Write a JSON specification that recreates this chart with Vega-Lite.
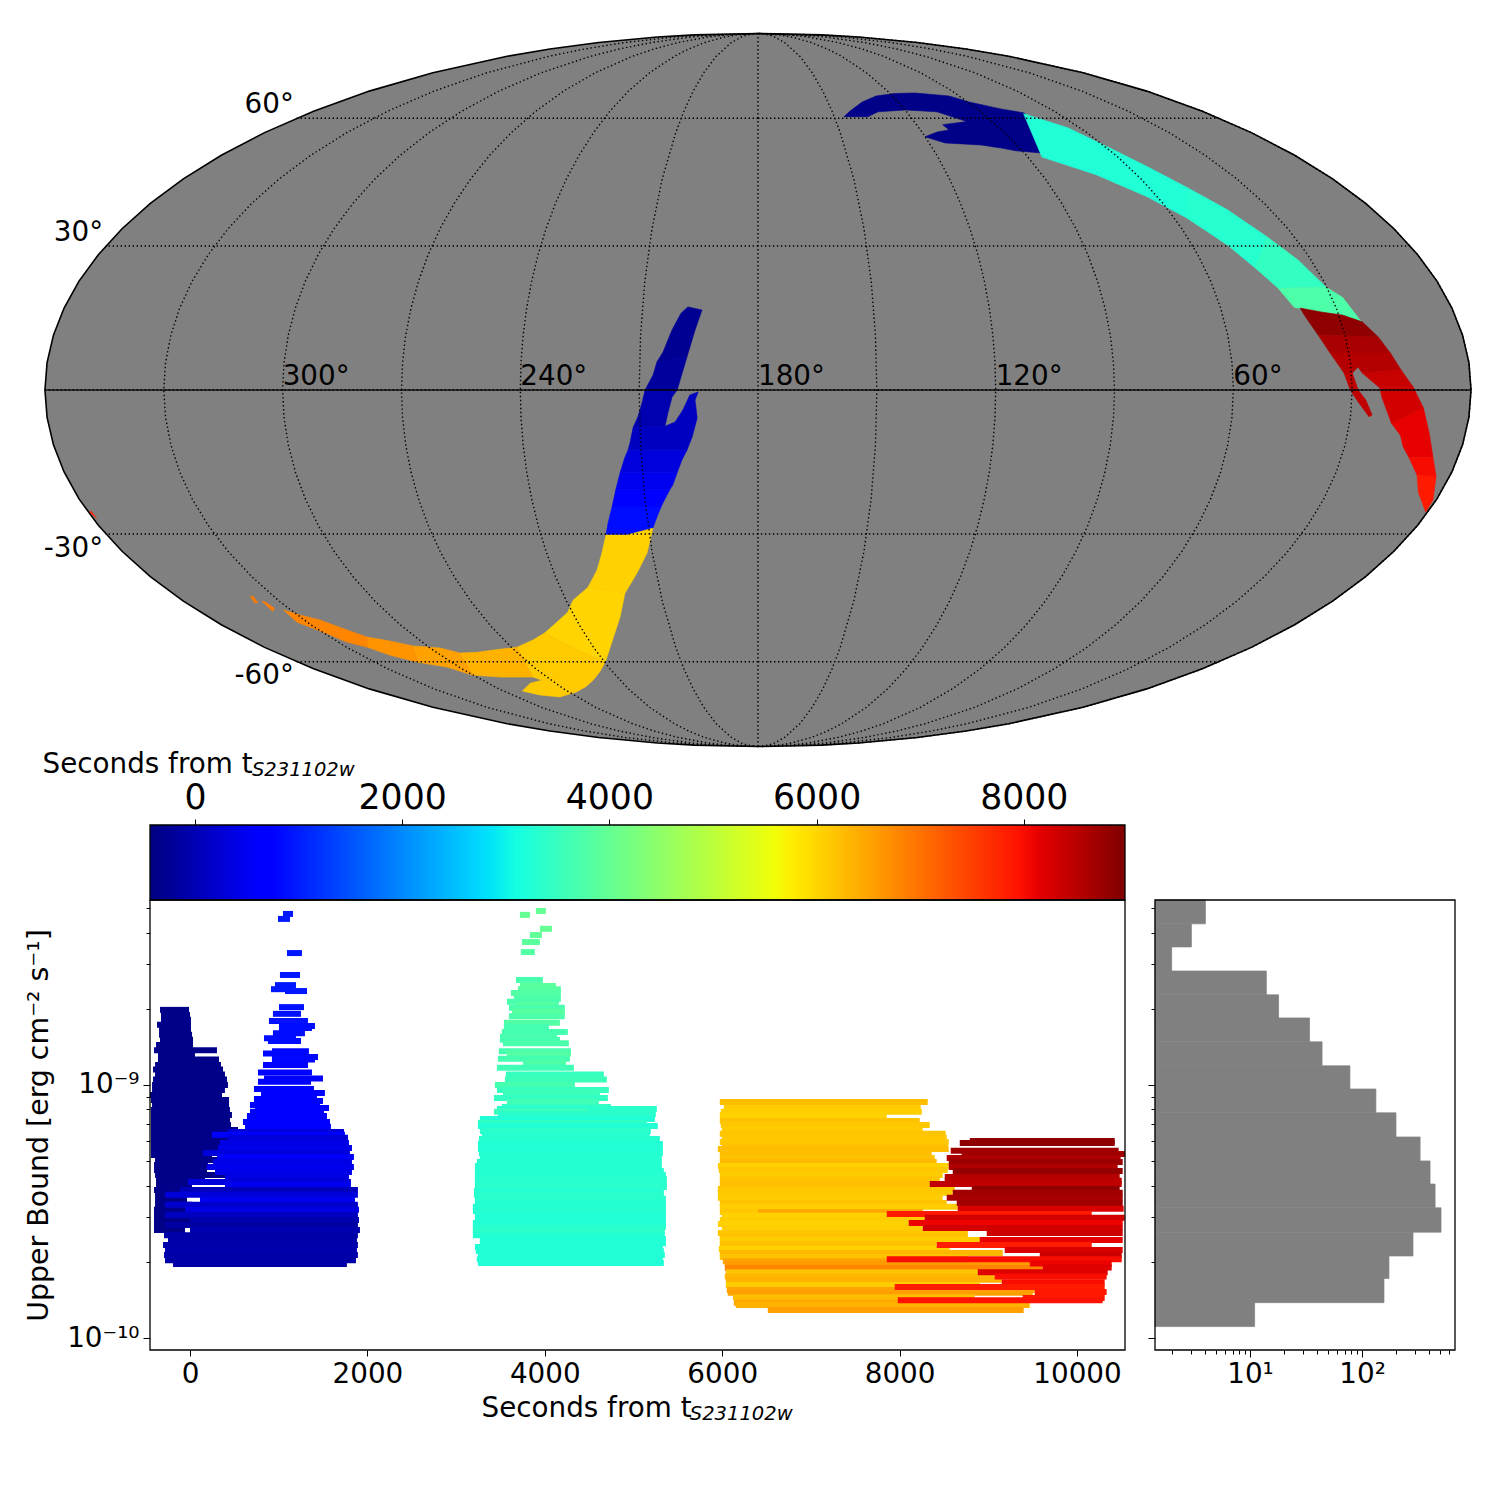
{
"$schema":"https://vega.github.io/schema/vega-lite/v6.json",
"width":1500,"height":1500,"padding":0,"autosize":{"type":"none"},"background":"white",
"config":{"font":"DejaVu Sans","view":{"stroke":null},"axis":{"grid":false,"domain":false,"tickColor":"black","labelColor":"black","titleColor":"black","titleFontWeight":"normal"}},
"resolve":{"scale":{"x":"independent","y":"independent"},"axis":{"x":"independent","y":"independent"}},
"layer":[
{"data":{"sphere":true},"mark":{"type":"geoshape","fill":"#808080","stroke":"black","strokeWidth":1.6},
 "projection":{"type":"mollweide","scale":252.1,"translate":[758,390],"rotate":[-180,0],"reflectX":true}},
{"data":{"values":[
{"type":"Feature","properties":{"t":-350},"geometry":{"type":"Polygon","coordinates":[[[136.8,60.4],[131.6,61.7],[107.8,61.7],[99.9,59.1],[110.2,58.3],[109.5,56.95],[114.5,56.4],[120.1,55.2],[114.5,53.65],[102.5,53.15],[96.4,52.4],[92.2,51.7],[84.4,51.2],[80.3,55.2],[75.5,58.8],[73.2,61.4],[80.4,62.5],[89.6,64.4],[94.7,66.1],[108.3,66.96],[127.3,66.1],[135.4,64.4],[142.7,61.9],[146.2,60.4],[136.8,60.4]]]}},
{"type":"Feature","properties":{"t":3230},"geometry":{"type":"Polygon","coordinates":[[[85.3,50.2],[72.9,46.0],[63.1,40.9],[56.4,36.15],[48.4,43.0],[53.9,47.85],[59.3,52.65],[64.6,57.5],[73.9,61.2],[85.3,50.2]]]}},
{"type":"Feature","properties":{"t":3300},"geometry":{"type":"Polygon","coordinates":[[[56.4,36.15],[50.3,30.2],[46.4,25.3],[37.7,32.0],[42.7,38.0],[48.4,43.0],[56.4,36.15]]]}},
{"type":"Feature","properties":{"t":3450},"geometry":{"type":"Polygon","coordinates":[[[46.4,25.3],[43,21.0],[30.2,21.2],[33.6,27.0],[37.7,32.0],[46.4,25.3]]]}},
{"type":"Feature","properties":{"t":3750},"geometry":{"type":"Polygon","coordinates":[[[43,21.0],[40.8,17.0],[34,16.0],[29.1,15.4],[24.7,13.8],[27.2,19.1],[30.2,21.2],[43,21.0]]]}},
{"type":"Feature","properties":{"t":8850},"geometry":{"type":"Polygon","coordinates":[[[39.4,16.86],[38.7,14.8],[36.9,11.3],[21.7,10.9],[24.6,14.0],[29.1,15.4],[34,16.0],[39.4,16.86]]]}},
{"type":"Feature","properties":{"t":8650},"geometry":{"type":"Polygon","coordinates":[[[36.9,11.3],[34.8,7.6],[19.5,7.6],[21.7,10.9],[36.9,11.3]]]}},
{"type":"Feature","properties":{"t":8550},"geometry":{"type":"Polygon","coordinates":[[[34.8,7.6],[31.9,3.5],[29.8,3.5],[28.2,4.7],[27.3,3.5],[17.4,4.1],[19.5,7.6],[34.8,7.6]]]}},
{"type":"Feature","properties":{"t":8450},"geometry":{"type":"Polygon","coordinates":[[[31.9,3.5],[30.5,0],[28.4,-2.45],[25.3,-5.5],[24.6,-5.1],[26.5,-2.05],[28.5,0],[29.8,3.5],[31.9,3.5]]]}},
{"type":"Feature","properties":{"t":8400},"geometry":{"type":"Polygon","coordinates":[[[27.3,3.5],[23,0.4],[14.6,0.6],[17.4,4.1],[27.3,3.5]]]}},
{"type":"Feature","properties":{"t":8300},"geometry":{"type":"Polygon","coordinates":[[[23,0.4],[22.5,-1.45],[19.4,-6.8],[11.8,-3.7],[14.6,0.6],[23,0.4]]]}},
{"type":"Feature","properties":{"t":8150},"geometry":{"type":"Polygon","coordinates":[[[19.4,-6.8],[16.5,-9.3],[15,-11.7],[12.7,-13.8],[6.5,-13.8],[9.3,-8.85],[11.8,-3.7],[19.4,-6.8]]]}},
{"type":"Feature","properties":{"t":8020},"geometry":{"type":"Polygon","coordinates":[[[12.7,-13.8],[8.7,-17.5],[3.5,-17.9],[6.5,-13.8],[12.7,-13.8]]]}},
{"type":"Feature","properties":{"t":7870},"geometry":{"type":"Polygon","coordinates":[[[8.7,-17.5],[5.9,-21.2],[0.6,-25.3],[0.9,-22.7],[3.5,-17.9],[8.7,-17.5]]]}},
{"type":"Feature","properties":{"t":7750},"geometry":{"type":"Polygon","coordinates":[[[359.6,-25.3],[358.9,-26.6],[359.0,-25.1],[359.6,-25.3]]]}},
{"type":"Feature","properties":{"t":-280},"geometry":{"type":"Polygon","coordinates":[[[194.5,16.45],[198.2,17.1],[199.9,15.8],[202,12.35],[204.1,7.8],[205.6,5.75],[198,6.8],[196.1,12.35],[194.5,16.45]]]}},
{"type":"Feature","properties":{"t":-180},"geometry":{"type":"Polygon","coordinates":[[[205.6,5.75],[206.5,3.1],[208.5,0],[200.4,0],[198,6.8],[205.6,5.75]]]}},
{"type":"Feature","properties":{"t":-40},"geometry":{"type":"Polygon","coordinates":[[[208.5,0],[209.3,-2.65],[210.4,-5.5],[211.7,-7.7],[203.6,-7.4],[202.8,-4.7],[201.7,-1.45],[200.4,0],[208.5,0]]]}},
{"type":"Feature","properties":{"t":100},"geometry":{"type":"Polygon","coordinates":[[[211.7,-7.7],[212.7,-10.9],[213.3,-12.35],[198.2,-12.35],[196.8,-9.7],[195.4,-5.75],[195.9,-2.05],[195.1,-0.4],[197.2,-1],[199,-4.1],[201,-6.55],[203.6,-7.4],[211.7,-7.7]]]}},
{"type":"Feature","properties":{"t":330},"geometry":{"type":"Polygon","coordinates":[[[213.3,-12.35],[214.2,-13.8],[215.8,-17.05],[201,-17.05],[199.6,-14.4],[198.2,-12.35],[213.3,-12.35]]]}},
{"type":"Feature","properties":{"t":480},"geometry":{"type":"Polygon","coordinates":[[[215.8,-17.05],[217.4,-20.6],[203.2,-20.6],[202.3,-19.55],[201,-17.05],[215.8,-17.05]]]}},
{"type":"Feature","properties":{"t":650},"geometry":{"type":"Polygon","coordinates":[[[217.4,-20.6],[219,-24.2],[205.9,-24.2],[205.3,-23.35],[203.2,-20.6],[217.4,-20.6]]]}},
{"type":"Feature","properties":{"t":850},"geometry":{"type":"Polygon","coordinates":[[[219,-24.2],[220.8,-27.65],[222,-30.2],[216.2,-30.2],[208.8,-28.75],[207.3,-26.35],[205.9,-24.2],[219,-24.2]]]}},
{"type":"Feature","properties":{"t":6050},"geometry":{"type":"Polygon","coordinates":[[[222,-30.2],[224.3,-34.15],[227.1,-37.95],[231.5,-41.8],[220.9,-43.2],[215.6,-38.6],[211.5,-34.15],[208.8,-28.75],[216.2,-30.2],[222,-30.2]]]}},
{"type":"Feature","properties":{"t":6020},"geometry":{"type":"Polygon","coordinates":[[[231.5,-41.8],[237.8,-44.8],[241.4,-47.6],[246.9,-50],[253.6,-52.65],[239.7,-60.1],[230.9,-53.9],[225.2,-48.8],[220.9,-43.2],[231.5,-41.8]]]}},
{"type":"Feature","properties":{"t":6120},"geometry":{"type":"Polygon","coordinates":[[[253.6,-52.65],[259.7,-54.4],[267.8,-56.2],[275.8,-64.15],[273.8,-65],[281,-65.85],[290.9,-68.1],[286.4,-69.3],[278.3,-69.9],[266.2,-68.4],[251.6,-65],[239.7,-60.1],[253.6,-52.65]]]}},
{"type":"Feature","properties":{"t":6350},"geometry":{"type":"Polygon","coordinates":[[[267.8,-56.2],[277.8,-56.95],[291.5,-57.7],[299.9,-63.6],[289.8,-64.15],[275.8,-64.15],[267.8,-56.2]]]}},
{"type":"Feature","properties":{"t":6520},"geometry":{"type":"Polygon","coordinates":[[[291.5,-57.7],[296.3,-56.4],[305.1,-55.9],[313,-60.1],[304.8,-61.4],[299.9,-63.6],[291.5,-57.7]]]}},
{"type":"Feature","properties":{"t":6650},"geometry":{"type":"Polygon","coordinates":[[[305.1,-55.9],[310.8,-54.65],[316.9,-53.65],[322.4,-56.2],[318.9,-58.3],[313,-60.1],[305.1,-55.9]]]}},
{"type":"Feature","properties":{"t":6800},"geometry":{"type":"Polygon","coordinates":[[[316.9,-53.65],[320.3,-51.9],[324.7,-49.5],[329,-48.3],[332.2,-47.1],[333.3,-50],[328.7,-53.1],[326.8,-54.9],[322.4,-56.2],[316.9,-53.65]]]}},
{"type":"Feature","properties":{"t":6900},"geometry":{"type":"Polygon","coordinates":[[[337.2,-43.9],[338.4,-45.5],[337.2,-45.3],[336.3,-43.9],[337.2,-43.9]]]}},
{"type":"Feature","properties":{"t":6900},"geometry":{"type":"Polygon","coordinates":[[[335.4,-45],[336.3,-47.4],[334.4,-46.7],[334.7,-45.3],[335.4,-45]]]}}
]},
"mark":{"type":"geoshape","strokeWidth":0.6},
"projection":{"type":"mollweide","scale":252.1,"translate":[758,390],"rotate":[-180,0],"reflectX":true},
"encoding":{
 "color":{"field":"properties.t","type":"quantitative","legend":null,"scale":{"domain":[-434,601,742,2766,2860,3095,4272,5589,5777,7942,8130,8977],"range":["#00007f","#0000ff","#0000ff","#00dbff","#00e5f7","#14ffe2","#7bff7b","#f0ff08","#ffec00","#ff1300","#e80000","#7f0000"],"interpolate":"rgb","clamp":true}},
 "stroke":{"field":"properties.t","type":"quantitative","legend":null,"scale":{"domain":[-434,601,742,2766,2860,3095,4272,5589,5777,7942,8130,8977],"range":["#00007f","#0000ff","#0000ff","#00dbff","#00e5f7","#14ffe2","#7bff7b","#f0ff08","#ffec00","#ff1300","#e80000","#7f0000"],"interpolate":"rgb","clamp":true}}
}},
{"data":{"graticule":{"stepMajor":[30,30],"stepMinor":[30,30]}},"mark":{"type":"geoshape","filled":false,"stroke":"black","strokeWidth":1.4,"strokeDash":[1.4,2.6]},
 "projection":{"type":"mollweide","scale":252.1,"translate":[758,390],"rotate":[-180,0],"reflectX":true}},
{"data":{"values":[{"type":"Feature","properties":{},"geometry":{"type":"LineString","coordinates":[[0.01,0],[90,0],[180,0],[270,0],[359.99,0]]}}]},
 "mark":{"type":"geoshape","filled":false,"stroke":"black","strokeWidth":1.6,"opacity":0.85},
 "projection":{"type":"mollweide","scale":252.1,"translate":[758,390],"rotate":[-180,0],"reflectX":true}},
{"data":{"values":[{"lon":300,"lat":0,"label":"300°"},{"lon":240,"lat":0,"label":"240°"},{"lon":180,"lat":0,"label":"180°"},{"lon":120,"lat":0,"label":"120°"},{"lon":60,"lat":0,"label":"60°"}]},
 "mark":{"type":"text","align":"left","baseline":"alphabetic","fontSize":27.8,"dy":-5,"color":"black"},
 "projection":{"type":"mollweide","scale":252.1,"translate":[758,390],"rotate":[-180,0],"reflectX":true},
 "encoding":{"longitude":{"field":"lon","type":"quantitative"},"latitude":{"field":"lat","type":"quantitative"},"text":{"field":"label"}}},
{"data":{"values":[{"lon":359.9,"lat":60,"label":"60°"},{"lon":359.9,"lat":30,"label":"30°"}]},
 "mark":{"type":"text","align":"right","baseline":"alphabetic","fontSize":27.8,"dx":-3,"dy":-5,"color":"black"},
 "projection":{"type":"mollweide","scale":252.1,"translate":[758,390],"rotate":[-180,0],"reflectX":true},
 "encoding":{"longitude":{"field":"lon","type":"quantitative"},"latitude":{"field":"lat","type":"quantitative"},"text":{"field":"label"}}},
{"data":{"values":[{"lon":359.9,"lat":-60,"label":"-60°"},{"lon":359.9,"lat":-30,"label":"-30°"}]},
 "mark":{"type":"text","align":"right","baseline":"alphabetic","fontSize":27.8,"dx":-3,"dy":22.5,"color":"black"},
 "projection":{"type":"mollweide","scale":252.1,"translate":[758,390],"rotate":[-180,0],"reflectX":true},
 "encoding":{"longitude":{"field":"lon","type":"quantitative"},"latitude":{"field":"lat","type":"quantitative"},"text":{"field":"label"}}},

{"data":{"values":[{"t0":-434,"t1":8977,"a":0,"b":1}]},
 "mark":{"type":"rect","stroke":"black","strokeWidth":1.3,"fill":{"gradient":"linear","x1":0,"y1":0,"x2":1,"y2":0,"stops":[{"offset":0,"color":"#00007f"},{"offset":0.11,"color":"#0000ff"},{"offset":0.125,"color":"#0000ff"},{"offset":0.34,"color":"#00dbff"},{"offset":0.35,"color":"#00e5f7"},{"offset":0.375,"color":"#14ffe2"},{"offset":0.5,"color":"#7bff7b"},{"offset":0.64,"color":"#f0ff08"},{"offset":0.66,"color":"#ffec00"},{"offset":0.89,"color":"#ff1300"},{"offset":0.91,"color":"#e80000"},{"offset":1,"color":"#7f0000"}]}},
 "encoding":{
  "x":{"field":"t0","type":"quantitative","scale":{"domain":[-434,8977],"range":[150,1125],"nice":false,"zero":false},
   "axis":{"orient":"top","offset":-825,"values":[0,2000,4000,6000,8000],"format":"d","tickSize":6,"tickWidth":1,"labelFontSize":34.7,"labelPadding":4,"title":"Seconds from t","titleFontSize":27.8,"titleX":42,"titleY":-53,"titleAlign":"left","titleBaseline":"alphabetic"}},
  "x2":{"field":"t1"},
  "y":{"field":"a","type":"quantitative","scale":{"domain":[0,1],"range":[900,825],"nice":false,"zero":false},"axis":null},
  "y2":{"field":"b"}}},
{"data":{"values":[{}]},"mark":{"type":"text","align":"left","baseline":"alphabetic","fontSize":19.5,"fontStyle":"italic","color":"black"},
 "encoding":{"x":{"datum":550,"type":"quantitative","scale":{"domain":[-434,8977],"range":[150,1125],"nice":false,"zero":false},"axis":null},
  "y":{"datum":1.65,"type":"quantitative","scale":{"domain":[0,1],"range":[900,825],"nice":false,"zero":false},"axis":null},
  "text":{"value":"S231102w"}}},

{"data":{"values":[
{"s":-338,"e":-11,"ub":1.98e-9,"t":-350},{"s":-327,"e":0,"ub":1.89e-9,"t":-350},{"s":-327,"e":11,"ub":1.81e-9,"t":-350},{"s":-372,"e":11,"ub":1.73e-9,"t":-350},{"s":-349,"e":11,"ub":1.65e-9,"t":-350},{"s":-349,"e":23,"ub":1.58e-9,"t":-350},{"s":-338,"e":34,"ub":1.51e-9,"t":-350},{"s":-383,"e":34,"ub":1.44e-9,"t":-350},{"s":-406,"e":304,"ub":1.37e-9,"t":-350},{"s":-361,"e":56,"ub":1.31e-9,"t":-350},{"s":-361,"e":327,"ub":1.26e-9,"t":-350},{"s":-394,"e":349,"ub":1.20e-9,"t":-350},{"s":-417,"e":372,"ub":1.15e-9,"t":-350},{"s":-394,"e":394,"ub":1.10e-9,"t":-350},{"s":-417,"e":417,"ub":1.05e-9,"t":-350},{"s":-428,"e":428,"ub":1.00e-9,"t":-350},{"s":-428,"e":394,"ub":9.55e-10,"t":-350},{"s":-451,"e":361,"ub":9.12e-10,"t":-350},{"s":-440,"e":440,"ub":8.72e-10,"t":-350},{"s":-428,"e":440,"ub":8.34e-10,"t":-350},{"s":-440,"e":451,"ub":7.97e-10,"t":-350},{"s":-440,"e":473,"ub":7.61e-10,"t":-350},{"s":-440,"e":451,"ub":7.27e-10,"t":-350},{"s":-440,"e":462,"ub":6.95e-10,"t":-350},{"s":-440,"e":541,"ub":6.64e-10,"t":-350},{"s":-440,"e":451,"ub":6.35e-10,"t":-350},{"s":-440,"e":428,"ub":6.06e-10,"t":-350},{"s":-440,"e":428,"ub":5.79e-10,"t":-350},{"s":-440,"e":485,"ub":5.54e-10,"t":-350},{"s":-440,"e":248,"ub":5.29e-10,"t":-350},{"s":-394,"e":316,"ub":5.05e-10,"t":-350},{"s":-406,"e":203,"ub":4.83e-10,"t":-350},{"s":-406,"e":192,"ub":4.61e-10,"t":-350},{"s":-394,"e":620,"ub":4.41e-10,"t":-350},{"s":-383,"e":169,"ub":4.21e-10,"t":-350},{"s":-383,"e":23,"ub":4.03e-10,"t":-350},{"s":-406,"e":79,"ub":3.85e-10,"t":-350},{"s":-394,"e":-90,"ub":3.68e-10,"t":-350},{"s":-394,"e":-34,"ub":3.51e-10,"t":-350},{"s":-394,"e":23,"ub":3.36e-10,"t":-350},{"s":-406,"e":23,"ub":3.21e-10,"t":-350},{"s":-406,"e":733,"ub":3.06e-10,"t":-350},{"s":-406,"e":56,"ub":2.93e-10,"t":-350},{"s":-406,"e":811,"ub":2.80e-10,"t":-350},{"s":-406,"e":-56,"ub":2.67e-10,"t":-350},

{"s":1048,"e":1161,"ub":4.74e-9,"t":950},{"s":992,"e":1127,"ub":4.53e-9,"t":950},{"s":1093,"e":1262,"ub":3.32e-9,"t":950},{"s":1014,"e":1240,"ub":2.72e-9,"t":950},{"s":958,"e":1195,"ub":2.48e-9,"t":950},{"s":913,"e":1138,"ub":2.39e-9,"t":950},{"s":1071,"e":1319,"ub":2.35e-9,"t":950},{"s":1003,"e":1285,"ub":2.03e-9,"t":900},{"s":935,"e":1251,"ub":1.91e-9,"t":900},{"s":890,"e":1330,"ub":1.79e-9,"t":900},{"s":1003,"e":1409,"ub":1.71e-9,"t":850},{"s":1003,"e":1375,"ub":1.68e-9,"t":850},{"s":935,"e":1296,"ub":1.60e-9,"t":850},{"s":834,"e":1195,"ub":1.53e-9,"t":850},{"s":879,"e":1251,"ub":1.49e-9,"t":850},{"s":924,"e":1341,"ub":1.36e-9,"t":800},{"s":823,"e":1296,"ub":1.33e-9,"t":800},{"s":924,"e":1443,"ub":1.29e-9,"t":800},{"s":924,"e":1409,"ub":1.26e-9,"t":800},{"s":823,"e":1330,"ub":1.20e-9,"t":780},{"s":766,"e":1375,"ub":1.12e-9,"t":780},{"s":834,"e":1499,"ub":1.06e-9,"t":750},{"s":766,"e":1364,"ub":1.03e-9,"t":750},{"s":721,"e":1397,"ub":9.64e-10,"t":730},{"s":800,"e":1521,"ub":9.29e-10,"t":730},{"s":721,"e":1431,"ub":8.80e-10,"t":720},{"s":755,"e":1499,"ub":8.64e-10,"t":720},{"s":676,"e":1465,"ub":8.34e-10,"t":700},{"s":733,"e":1567,"ub":8.11e-10,"t":700},{"s":676,"e":1510,"ub":7.83e-10,"t":680},{"s":642,"e":1544,"ub":7.54e-10,"t":680},{"s":597,"e":1578,"ub":7.14e-10,"t":650},{"s":620,"e":1589,"ub":6.83e-10,"t":650},
{"s":428,"e":1736,"ub":6.52e-10,"t":300},{"s":248,"e":1747,"ub":6.35e-10,"t":650},{"s":428,"e":1781,"ub":6.18e-10,"t":300},{"s":338,"e":1792,"ub":5.90e-10,"t":380},{"s":316,"e":1826,"ub":5.64e-10,"t":420},{"s":147,"e":1803,"ub":5.39e-10,"t":300},{"s":304,"e":1848,"ub":5.19e-10,"t":560},{"s":259,"e":1826,"ub":4.96e-10,"t":400},{"s":192,"e":1848,"ub":4.74e-10,"t":450},{"s":282,"e":1826,"ub":4.53e-10,"t":420},{"s":394,"e":1792,"ub":4.33e-10,"t":350},{"s":-23,"e":1814,"ub":4.14e-10,"t":300},{"s":394,"e":1814,"ub":4.03e-10,"t":480},
{"s":-113,"e":1893,"ub":3.85e-10,"t":50},{"s":-282,"e":1893,"ub":3.68e-10,"t":300},{"s":113,"e":1860,"ub":3.51e-10,"t":500},{"s":-282,"e":1893,"ub":3.36e-10,"t":200},{"s":-56,"e":1905,"ub":3.21e-10,"t":350},{"s":-282,"e":1893,"ub":3.06e-10,"t":100},{"s":0,"e":1905,"ub":2.93e-10,"t":-50},{"s":-282,"e":1893,"ub":2.80e-10,"t":-150},{"s":0,"e":1916,"ub":2.67e-10,"t":-50},{"s":-293,"e":1893,"ub":2.55e-10,"t":-100},{"s":-248,"e":1882,"ub":2.44e-10,"t":-100},{"s":-304,"e":1893,"ub":2.33e-10,"t":-80},{"s":-282,"e":1882,"ub":2.23e-10,"t":-50},{"s":-293,"e":1893,"ub":2.13e-10,"t":-80},{"s":-282,"e":1871,"ub":2.03e-10,"t":-100},{"s":-192,"e":1769,"ub":1.96e-10,"t":-120},

{"s":3899,"e":4012,"ub":4.87e-9,"t":4000},{"s":3719,"e":3832,"ub":4.70e-9,"t":4000},{"s":3945,"e":4080,"ub":4.14e-9,"t":4000},{"s":3832,"e":3967,"ub":3.91e-9,"t":3950},{"s":3742,"e":3945,"ub":3.67e-9,"t":3900},{"s":3730,"e":3888,"ub":3.35e-9,"t":3800},{"s":3674,"e":3978,"ub":2.60e-9,"t":3700},{"s":3719,"e":4125,"ub":2.46e-9,"t":3900},{"s":3697,"e":4181,"ub":2.39e-9,"t":3850},{"s":3618,"e":4181,"ub":2.31e-9,"t":3800},{"s":3651,"e":4181,"ub":2.19e-9,"t":3750},{"s":3573,"e":4159,"ub":2.13e-9,"t":3700},{"s":3674,"e":4136,"ub":2.07e-9,"t":3850},{"s":3595,"e":4226,"ub":2.02e-9,"t":3700},{"s":3629,"e":4226,"ub":1.94e-9,"t":3850},{"s":3595,"e":4226,"ub":1.87e-9,"t":3750},{"s":3539,"e":4170,"ub":1.76e-9,"t":3800},{"s":3539,"e":4046,"ub":1.70e-9,"t":3650},{"s":3516,"e":4260,"ub":1.62e-9,"t":3650},{"s":3494,"e":4136,"ub":1.55e-9,"t":3700},{"s":3494,"e":4170,"ub":1.51e-9,"t":3650},{"s":3528,"e":4271,"ub":1.46e-9,"t":3700},{"s":3482,"e":4294,"ub":1.36e-9,"t":3650},{"s":3573,"e":4294,"ub":1.33e-9,"t":3800},{"s":3471,"e":4283,"ub":1.27e-9,"t":3650},{"s":3753,"e":4238,"ub":1.22e-9,"t":3750},{"s":3460,"e":4328,"ub":1.17e-9,"t":3600},{"s":3561,"e":4666,"ub":1.10e-9,"t":3500},{"s":3550,"e":4700,"ub":1.05e-9,"t":3550},{"s":3437,"e":4339,"ub":1.00e-9,"t":3650},{"s":3460,"e":4722,"ub":9.55e-10,"t":3500},{"s":3528,"e":4621,"ub":9.20e-10,"t":3550},{"s":3426,"e":4711,"ub":8.88e-10,"t":3450},{"s":3573,"e":4609,"ub":8.57e-10,"t":3600},{"s":3516,"e":4745,"ub":8.19e-10,"t":3450},{"s":3460,"e":5263,"ub":8.04e-10,"t":3350},{"s":3426,"e":4485,"ub":7.83e-10,"t":3550},{"s":3471,"e":5252,"ub":7.68e-10,"t":3350},
{"s":3268,"e":5241,"ub":7.33e-10,"t":3230},{"s":3246,"e":5150,"ub":7.08e-10,"t":3400},{"s":3246,"e":5274,"ub":6.89e-10,"t":3250},{"s":3268,"e":5195,"ub":6.58e-10,"t":3350},{"s":3291,"e":5184,"ub":6.35e-10,"t":3300},{"s":3257,"e":5297,"ub":6.12e-10,"t":3300},{"s":3246,"e":5331,"ub":5.84e-10,"t":3250},{"s":3246,"e":5331,"ub":5.59e-10,"t":3230},{"s":3257,"e":5331,"ub":5.39e-10,"t":3280},{"s":3268,"e":5319,"ub":5.19e-10,"t":3300},{"s":3234,"e":5319,"ub":4.96e-10,"t":3280},{"s":3212,"e":5319,"ub":4.78e-10,"t":3300},{"s":3212,"e":5342,"ub":4.57e-10,"t":3280},{"s":3212,"e":5365,"ub":4.41e-10,"t":3300},{"s":3212,"e":5376,"ub":4.25e-10,"t":3320},{"s":3212,"e":5376,"ub":4.10e-10,"t":3300},{"s":3212,"e":5376,"ub":3.95e-10,"t":3330},{"s":3201,"e":5342,"ub":3.82e-10,"t":3300},{"s":3201,"e":5342,"ub":3.68e-10,"t":3340},{"s":3212,"e":5365,"ub":3.55e-10,"t":3320},{"s":3212,"e":5365,"ub":3.42e-10,"t":3300},{"s":3189,"e":5365,"ub":3.30e-10,"t":3280},{"s":3189,"e":5365,"ub":3.18e-10,"t":3300},{"s":3212,"e":5365,"ub":3.06e-10,"t":3250},{"s":3212,"e":5365,"ub":2.96e-10,"t":3230},{"s":3189,"e":5365,"ub":2.85e-10,"t":3230},{"s":3189,"e":5365,"ub":2.75e-10,"t":3300},{"s":3189,"e":5353,"ub":2.65e-10,"t":3350},{"s":3189,"e":5353,"ub":2.55e-10,"t":3280},{"s":3268,"e":5365,"ub":2.46e-10,"t":3230},{"s":3268,"e":5365,"ub":2.37e-10,"t":3230},{"s":3212,"e":5331,"ub":2.29e-10,"t":3230},{"s":3223,"e":5342,"ub":2.21e-10,"t":3260},{"s":3246,"e":5353,"ub":2.13e-10,"t":3230},{"s":3234,"e":5331,"ub":2.05e-10,"t":3230},{"s":3246,"e":5342,"ub":1.98e-10,"t":3230},

{"s":5973,"e":8317,"ub":8.57e-10,"t":6250},{"s":6029,"e":7833,"ub":8.41e-10,"t":6250},{"s":6018,"e":8238,"ub":8.11e-10,"t":6100},{"s":5984,"e":8250,"ub":7.83e-10,"t":6080},{"s":5973,"e":7855,"ub":7.61e-10,"t":6050},{"s":5973,"e":8227,"ub":7.20e-10,"t":6200},{"s":5984,"e":8340,"ub":6.95e-10,"t":6150},{"s":5996,"e":8261,"ub":6.70e-10,"t":6120},{"s":5973,"e":8520,"ub":6.41e-10,"t":6180},{"s":5996,"e":8531,"ub":6.18e-10,"t":6150},{"s":5973,"e":8554,"ub":5.95e-10,"t":6150},{"s":5996,"e":8543,"ub":5.68e-10,"t":6220},{"s":5951,"e":8554,"ub":5.59e-10,"t":6250},{"s":5973,"e":8362,"ub":5.39e-10,"t":6230},{"s":5973,"e":8396,"ub":5.14e-10,"t":6200},{"s":5973,"e":8418,"ub":4.96e-10,"t":6300},{"s":5951,"e":8554,"ub":4.78e-10,"t":6050},{"s":5962,"e":8543,"ub":4.61e-10,"t":6150},{"s":5973,"e":8486,"ub":4.41e-10,"t":6100},{"s":5973,"e":8453,"ub":4.25e-10,"t":6180},{"s":5973,"e":8588,"ub":4.06e-10,"t":6230},{"s":5951,"e":8622,"ub":3.88e-10,"t":6150},{"s":5951,"e":8599,"ub":3.75e-10,"t":6130},{"s":5951,"e":8486,"ub":3.58e-10,"t":6100},{"s":5973,"e":8531,"ub":3.42e-10,"t":6200},{"s":5973,"e":8655,"ub":3.30e-10,"t":6080},{"s":5973,"e":8261,"ub":3.15e-10,"t":6150},{"s":6401,"e":8261,"ub":3.15e-10,"t":6450},{"s":5996,"e":8114,"ub":3.04e-10,"t":6050},{"s":5973,"e":8306,"ub":2.93e-10,"t":6100},{"s":5951,"e":8114,"ub":2.82e-10,"t":6050},{"s":5996,"e":8261,"ub":2.72e-10,"t":6080},{"s":5951,"e":8768,"ub":2.60e-10,"t":6150},{"s":5973,"e":8768,"ub":2.53e-10,"t":6200},{"s":5973,"e":8915,"ub":2.44e-10,"t":6100},{"s":5973,"e":8418,"ub":2.35e-10,"t":6200},{"s":5962,"e":8565,"ub":2.25e-10,"t":6050},{"s":5973,"e":9163,"ub":2.17e-10,"t":6300},{"s":5973,"e":8768,"ub":2.09e-10,"t":6200},{"s":6007,"e":9580,"ub":2.01e-10,"t":6500},{"s":6029,"e":9467,"ub":1.97e-10,"t":6600},{"s":6029,"e":9613,"ub":1.89e-10,"t":6800},{"s":6041,"e":8881,"ub":1.82e-10,"t":6200},{"s":6029,"e":9072,"ub":1.75e-10,"t":6300},{"s":6041,"e":9151,"ub":1.70e-10,"t":6350},{"s":6041,"e":8903,"ub":1.62e-10,"t":6100},{"s":6052,"e":9523,"ub":1.55e-10,"t":6500},{"s":6063,"e":9501,"ub":1.51e-10,"t":6550},{"s":6120,"e":8847,"ub":1.45e-10,"t":6250},{"s":6131,"e":9388,"ub":1.38e-10,"t":6450},{"s":6153,"e":9467,"ub":1.35e-10,"t":6350},{"s":6514,"e":9399,"ub":1.29e-10,"t":6550},

{"s":8791,"e":10425,"ub":6.01e-10,"t":8850},{"s":8678,"e":10425,"ub":5.90e-10,"t":8850},{"s":8576,"e":10470,"ub":5.49e-10,"t":8700},{"s":8700,"e":10540,"ub":5.34e-10,"t":8700},{"s":8531,"e":10492,"ub":5.14e-10,"t":8600},{"s":8554,"e":10515,"ub":4.96e-10,"t":8750},{"s":8554,"e":10458,"ub":4.74e-10,"t":8600},{"s":8599,"e":10515,"ub":4.57e-10,"t":8800},{"s":8509,"e":10481,"ub":4.33e-10,"t":8550},{"s":8509,"e":10504,"ub":4.18e-10,"t":8500},{"s":8340,"e":10504,"ub":4.06e-10,"t":8450},{"s":8813,"e":10481,"ub":3.88e-10,"t":8850},{"s":8599,"e":10515,"ub":3.75e-10,"t":8700},{"s":8531,"e":10515,"ub":3.58e-10,"t":8650},{"s":8644,"e":10515,"ub":3.42e-10,"t":8700},{"s":8655,"e":10526,"ub":3.24e-10,"t":8250},{"s":7855,"e":10166,"ub":3.09e-10,"t":7870},{"s":8283,"e":10537,"ub":2.99e-10,"t":8300},{"s":8103,"e":10515,"ub":2.85e-10,"t":8100},{"s":8261,"e":10515,"ub":2.72e-10,"t":8300},{"s":8982,"e":10515,"ub":2.60e-10,"t":8350},{"s":8903,"e":10515,"ub":2.44e-10,"t":8150},{"s":8418,"e":10166,"ub":2.33e-10,"t":7850},{"s":9185,"e":10515,"ub":2.23e-10,"t":8250},{"s":9580,"e":10504,"ub":2.13e-10,"t":8350},{"s":7855,"e":10504,"ub":2.05e-10,"t":8000},{"s":9467,"e":10391,"ub":1.97e-10,"t":8100},{"s":9613,"e":10391,"ub":1.90e-10,"t":8200},{"s":8881,"e":10346,"ub":1.82e-10,"t":8200},{"s":9072,"e":10334,"ub":1.75e-10,"t":8000},{"s":9151,"e":10312,"ub":1.66e-10,"t":8000},{"s":7945,"e":10312,"ub":1.59e-10,"t":7870},{"s":9523,"e":10334,"ub":1.52e-10,"t":7900},{"s":9388,"e":10312,"ub":1.44e-10,"t":7900},{"s":7979,"e":10289,"ub":1.41e-10,"t":7950}
]},
"mark":{"type":"rule","strokeWidth":6},
"encoding":{
 "x":{"field":"s","type":"quantitative","scale":{"domain":[-451,10541],"range":[150,1125],"nice":false,"zero":false},
  "axis":{"orient":"bottom","offset":-150,"values":[0,2000,4000,6000,8000,10000],"format":"d","tickSize":6,"tickWidth":1,"labelFontSize":27.8,"labelPadding":4,"title":"Seconds from t","titleFontSize":27.8,"titleX":481,"titleY":66,"titleAlign":"left","titleBaseline":"alphabetic"}},
 "x2":{"field":"e"},
 "y":{"field":"ub","type":"quantitative","scale":{"type":"log","domain":[8.97e-11,5.38e-9],"range":[1350,900],"nice":false,"zero":false},
  "axis":{"orient":"left","offset":-150,"values":[1e-9,1e-10],"labelExpr":"datum.value>5e-10?'10⁻⁹':'10⁻¹⁰'","tickSize":7,"tickWidth":1,"labelFontSize":27.8,"labelPadding":4,"title":"Upper Bound [erg cm⁻² s⁻¹]","titleFontSize":28.4,"titleAngle":-90,"titleX":-103,"titleY":1125,"titleAlign":"center","titleBaseline":"alphabetic"}},
 "color":{"field":"t","type":"quantitative","legend":null,"scale":{"domain":[-434,601,742,2766,2860,3095,4272,5589,5777,7942,8130,8977],"range":["#00007f","#0000ff","#0000ff","#00dbff","#00e5f7","#14ffe2","#7bff7b","#f0ff08","#ffec00","#ff1300","#e80000","#7f0000"],"interpolate":"rgb","clamp":true}}
}},
{"data":{"values":[{}]},"mark":{"type":"text","align":"left","baseline":"alphabetic","fontSize":19.5,"fontStyle":"italic","color":"black"},
 "encoding":{"x":{"datum":5635,"type":"quantitative","scale":{"domain":[-451,10541],"range":[150,1125],"nice":false,"zero":false},"axis":null},
  "y":{"datum":4.74e-11,"type":"quantitative","scale":{"type":"log","domain":[8.97e-11,5.38e-9],"range":[1350,900],"nice":false,"zero":false},"axis":null},
  "text":{"value":"S231102w"}}},
{"data":{"values":[{"a":-451,"b":10541,"c":8.97e-11,"d":5.38e-9}]},"mark":{"type":"rect","filled":false,"stroke":"black","strokeWidth":1.3},
 "encoding":{"x":{"field":"a","type":"quantitative","scale":{"domain":[-451,10541],"range":[150,1125],"nice":false,"zero":false},"axis":null},"x2":{"field":"b"},
  "y":{"field":"c","type":"quantitative","scale":{"type":"log","domain":[8.97e-11,5.38e-9],"range":[1350,900],"nice":false,"zero":false},
   "axis":{"orient":"left","offset":-150,"values":[2e-10,3e-10,4e-10,5e-10,6e-10,7e-10,8e-10,9e-10,2e-9,3e-9,4e-9,5e-9],"labels":false,"tickSize":4,"tickWidth":1,"title":null}},"y2":{"field":"d"}}},

{"data":{"values":[
{"lo":4.33e-9,"hi":5.38e-9,"n":4},{"lo":3.51e-9,"hi":4.33e-9,"n":3},{"lo":2.82e-9,"hi":3.51e-9,"n":2},{"lo":2.27e-9,"hi":2.82e-9,"n":14},{"lo":1.84e-9,"hi":2.27e-9,"n":18},{"lo":1.48e-9,"hi":1.84e-9,"n":34},{"lo":1.19e-9,"hi":1.48e-9,"n":44},{"lo":9.64e-10,"hi":1.19e-9,"n":78},{"lo":7.76e-10,"hi":9.64e-10,"n":133},{"lo":6.23e-10,"hi":7.76e-10,"n":201},{"lo":5.01e-10,"hi":6.23e-10,"n":330},{"lo":4.06e-10,"hi":5.01e-10,"n":405},{"lo":3.27e-10,"hi":4.06e-10,"n":449},{"lo":2.62e-10,"hi":3.27e-10,"n":507},{"lo":2.11e-10,"hi":2.62e-10,"n":285},{"lo":1.72e-10,"hi":2.11e-10,"n":174},{"lo":1.38e-10,"hi":1.72e-10,"n":157},{"lo":1.11e-10,"hi":1.38e-10,"n":11}
]},
"mark":{"type":"rect","fill":"#808080","stroke":"#808080","strokeWidth":0.7},
"encoding":{
 "x":{"field":"n","type":"quantitative","scale":{"type":"log","domain":[1.42,676],"range":[1155,1455],"nice":false,"zero":false},
  "axis":{"orient":"bottom","offset":-150,"values":[10,100],"labelExpr":"datum.value>50?'10²':'10¹'","tickSize":7,"tickWidth":1,"labelFontSize":27.8,"labelPadding":3,"title":null}},
 "x2":{"datum":1.42},
 "y":{"field":"lo","type":"quantitative","scale":{"type":"log","domain":[8.97e-11,5.38e-9],"range":[1350,900],"nice":false,"zero":false},
  "axis":{"orient":"left","offset":-1155,"values":[1e-9,1e-10],"labels":false,"tickSize":7,"tickWidth":1,"title":null}},
 "y2":{"field":"hi"}}},
{"data":{"values":[{"a":1.42,"b":676,"c":8.97e-11,"d":5.38e-9}]},"mark":{"type":"rect","filled":false,"stroke":"black","strokeWidth":1.3},
 "encoding":{"x":{"field":"a","type":"quantitative","scale":{"type":"log","domain":[1.42,676],"range":[1155,1455],"nice":false,"zero":false},
   "axis":{"orient":"bottom","offset":-150,"values":[2,3,4,5,6,7,8,9,20,30,40,50,60,70,80,90,200,300,400,500,600],"labels":false,"tickSize":4,"tickWidth":1,"title":null}},"x2":{"field":"b"},
  "y":{"field":"c","type":"quantitative","scale":{"type":"log","domain":[8.97e-11,5.38e-9],"range":[1350,900],"nice":false,"zero":false},
   "axis":{"orient":"left","offset":-1155,"values":[2e-10,3e-10,4e-10,5e-10,6e-10,7e-10,8e-10,9e-10,2e-9,3e-9,4e-9,5e-9],"labels":false,"tickSize":4,"tickWidth":1,"title":null}},"y2":{"field":"d"}}}
]}
